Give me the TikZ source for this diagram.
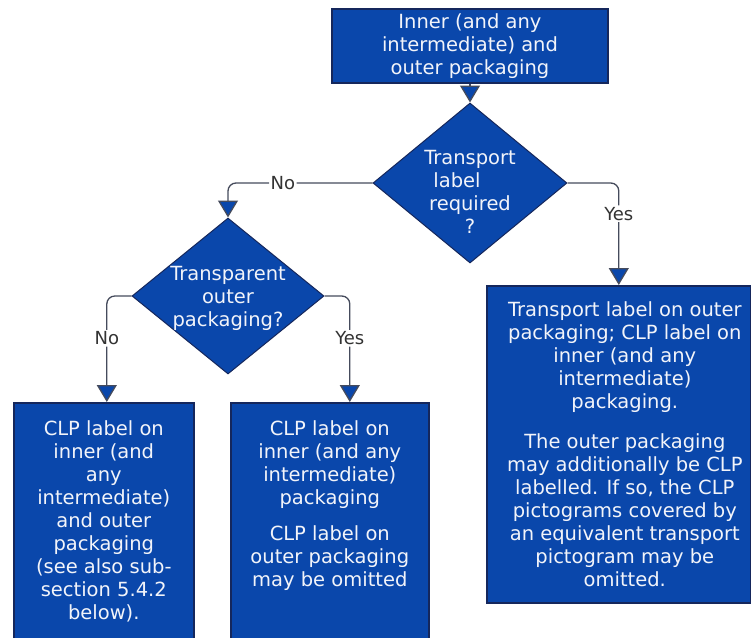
\documentclass[tikz,border=0pt]{standalone}
\usepackage{fontspec}
\setmainfont{DejaVu Sans}
\usetikzlibrary{shapes.geometric,arrows.meta}
\definecolor{boxblue}{HTML}{0A47AB}
\definecolor{boxline}{HTML}{15275C}
\definecolor{conn}{HTML}{454B5C}
\definecolor{txt}{HTML}{F2F4FA}
\begin{document}
\begin{tikzpicture}[x=1pt,y=1pt,
  every node/.style={font=\fontsize{19.5}{23}\selectfont},
  box/.style={rectangle, draw=boxline, line width=1.6pt, fill=boxblue, text=txt, inner sep=0pt},
  dia/.style={diamond, draw=boxline, line width=1pt, fill=boxblue, text=txt, inner sep=0pt},
  arr/.style={draw=conn, line width=1.3pt, rounded corners=8pt, -{Triangle[width=20pt,length=17pt,fill=boxblue]}},
  lab/.style={fill=white, text=black!80, inner sep=1.5pt, font=\fontsize{18}{20}\selectfont}]
\useasboundingbox (0,0) rectangle (751,-637);
\clip (0,0) rectangle (751,-637);

\node[box, minimum width=276pt, minimum height=74pt, align=center] (top) at (470,-46)
  {Inner (and any\\intermediate) and\\outer packaging};

\node[dia, minimum width=194pt, minimum height=160pt] (q1) at (470,-183)
  {\makebox[0pt]{\smash{\raisebox{-17pt}{\begin{tabular}{@{}c@{}}Transport\\label\rule{26pt}{0pt}\\required\\?\end{tabular}}}}};

\node[dia, minimum width=192pt, minimum height=156pt] (q2) at (228,-296)
  {\makebox[0pt]{\smash{\raisebox{-8pt}{\begin{tabular}{@{}c@{}}Transparent\\outer\\packaging?\end{tabular}}}}};

\node[box, anchor=north west] (lbox) at (13,-402)
  {\parbox[c][240pt][t]{180pt}{\centering\vspace*{18pt}CLP label on\\inner (and\\any\\intermediate)\\and outer\\packaging\\(see also sub-\\section 5.4.2\\below).}};

\node[box, anchor=north west] (mbox) at (230,-402)
  {\parbox[c][240pt][t]{198pt}{\centering\vspace*{18pt}CLP label on\\inner (and any\\intermediate)\\packaging\par\vspace{13pt}CLP label on\\outer packaging\\may be omitted}};

\node[box, anchor=north west] (rbox) at (486,-285)
  {\parbox[c][317pt][t]{264pt}{\centering\advance\leftskip 12pt\vspace*{16pt}Transport label on outer\\packaging; CLP label on\\inner (and any\\intermediate)\\packaging.\par\vspace{17pt}The outer packaging\\may additionally be CLP\\labelled. If so, the CLP\\pictograms covered by\\an equivalent transport\\pictogram may be\\omitted.}};

\draw[arr] (top.south) -- (q1.north);
\draw[arr] (q1.west) -| node[lab, pos=0.31] {No} (q2.north);
\draw[arr] (q1.east) -| node[lab, pos=0.65] {Yes} (rbox.north);
\draw[arr] (q2.west) -| node[lab, pos=0.7] {No} ([xshift=3pt]lbox.north);
\draw[arr] (q2.east) -| node[lab, pos=0.7] {Yes} ([xshift=20pt]mbox.north);
\end{tikzpicture}
\end{document}
